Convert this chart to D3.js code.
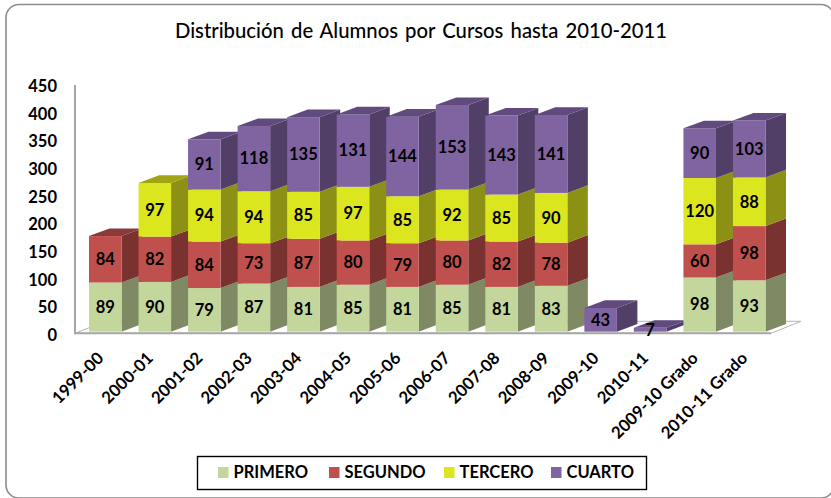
<!DOCTYPE html>
<html>
<head>
<meta charset="utf-8">
<script src="https://cdnjs.cloudflare.com/ajax/libs/d3/7.8.5/d3.min.js"></script>
<style>
    html, body { margin: 0; padding: 0; background: #fff; }
    svg { display: block; }
    text { font-family: Lato, "Open Sans", sans-serif; fill: #000; }
</style>
</head>
<body>
<div id="chart"></div>
<script>
var cursos = ["1999-00", "2000-01", "2001-02", "2002-03", "2003-04", "2004-05", "2005-06", "2006-07", "2007-08", "2008-09", "2009-10", "2010-11", "2009-10 Grado", "2010-11 Grado"];
var series = ["PRIMERO", "SEGUNDO", "TERCERO", "CUARTO"];
var primero = [89, 90, 79, 87, 81, 85, 81, 85, 81, 83, 0, 0, 98, 93];
var segundo = [84, 82, 84, 73, 87, 80, 79, 80, 82, 78, 0, 0, 60, 98];
var tercero = [0, 97, 94, 94, 85, 97, 85, 92, 85, 90, 0, 0, 120, 88];
var cuarto = [0, 0, 91, 118, 135, 131, 144, 153, 143, 141, 43, 7, 90, 103];
var yTicks = [0, 50, 100, 150, 200, 250, 300, 350, 400, 450];

var frontColors = ["#c3d69b", "#c0504d", "#dce61e", "#8064a2"];
var sideColors = ["#7f8a65", "#7a3230", "#8c9115", "#523f68"];
var topColors = ["#8f9c72", "#8a3a38", "#a0a513", "#614b7e"];

var width = 831, height = 498;
var depthX = 20.5, depthY = 7.6;

var rows = cursos.map(function (c, i) {
    return { curso: c, PRIMERO: primero[i], SEGUNDO: segundo[i], TERCERO: tercero[i], CUARTO: cuarto[i] };
});
var stacked = d3.stack().keys(series)(rows);

var x = d3.scaleBand().domain(cursos).range([89, 765.5]).paddingInner(0.343).paddingOuter(0);
var y = d3.scaleLinear().domain([0, 450]).range([331.7, 82.9]);

var svg = d3.select("#chart").append("svg").attr("width", width).attr("height", height);

// outer frame, the right and bottom edges run off the picture
svg.append("rect")
    .attr("x", 6).attr("y", 4.5).attr("width", 828).attr("height", 493.5)
    .attr("rx", 13)
    .attr("fill", "#fff").attr("stroke", "#8c8c8c").attr("stroke-width", 1.6);

svg.append("text")
    .attr("x", 421).attr("y", 38)
    .attr("text-anchor", "middle")
    .style("font-size", "20.3px").style("font-weight", 500).style("word-spacing", "2px")
    .text("Distribución de Alumnos por Cursos hasta 2010-2011");

// floor and wall
var floorY = y(0) + 1.6;
svg.append("path")
    .attr("d", "M75," + floorY + "L105," + (floorY - 12) + "L801," + (floorY - 12) + "L771," + floorY + "Z")
    .attr("fill", "#fff").attr("stroke", "#b4b4b4").attr("stroke-width", 1);
svg.append("line")
    .attr("x1", 75).attr("x2", 771).attr("y1", floorY).attr("y2", floorY)
    .attr("stroke", "#a6a6a6").attr("stroke-width", 2);
svg.append("line")
    .attr("x1", 75).attr("x2", 75).attr("y1", 85).attr("y2", floorY + 1)
    .attr("stroke", "#a6a6a6").attr("stroke-width", 2);

// bars, left to right so each one covers the side of the previous one
var bars = svg.append("g");
cursos.forEach(function (c, i) {
    var g = bars.append("g");
    var x0 = x(c), x1 = x(c) + x.bandwidth();
    var topS = -1;
    stacked.forEach(function (layer, s) {
        var y0 = y(layer[i][0]), y1 = y(layer[i][1]);
        if (layer[i][1] === layer[i][0]) return;
        topS = s;
        g.append("path")
            .attr("d", "M" + x1 + "," + y1 + "L" + (x1 + depthX) + "," + (y1 - depthY) + "L" + (x1 + depthX) + "," + (y0 - depthY) + "L" + x1 + "," + y0 + "Z")
            .attr("fill", sideColors[s]);
        g.append("rect")
            .attr("x", x0).attr("y", y1).attr("width", x.bandwidth()).attr("height", y0 - y1)
            .attr("fill", frontColors[s]);
    });
    var yt = y(stacked[topS][i][1]);
    g.append("path")
        .attr("d", "M" + x0 + "," + yt + "L" + (x0 + depthX) + "," + (yt - depthY) + "L" + (x1 + depthX) + "," + (yt - depthY) + "L" + x1 + "," + yt + "Z")
        .attr("fill", topColors[topS]);
});

// data labels go on top of everything
stacked.forEach(function (layer) {
    svg.append("g").selectAll("text")
        .data(layer.filter(function (d) { return d[1] > d[0]; }))
        .enter().append("text")
        .attr("x", function (d) { return x(d.data.curso) + x.bandwidth() / 2; })
        .attr("y", function (d) { return (y(d[0]) + y(d[1])) / 2 + 5.8; })
        .attr("text-anchor", "middle")
        .style("font-size", "16.5px").style("font-weight", 700)
        .text(function (d) { return d[1] - d[0]; });
});

// axes
var yAxis = svg.append("g")
    .attr("transform", "translate(57,3.4)")
    .call(d3.axisLeft(y).tickValues(yTicks).tickSize(0).tickPadding(0));
yAxis.select(".domain").remove();
yAxis.selectAll("text").style("font-size", "16.5px").style("font-weight", 700);

var xAxis = svg.append("g")
    .attr("transform", "translate(-9,351)")
    .call(d3.axisBottom(x).tickSize(0).tickPadding(0));
xAxis.select(".domain").remove();
xAxis.selectAll("text")
    .attr("text-anchor", "end")
    .attr("dy", "0.7em")
    .attr("transform", "rotate(-45)")
    .style("font-size", "16.7px").style("font-weight", 700);

// legend
var legendX = [218, 329, 444, 551];
var legend = svg.append("g");
legend.append("rect")
    .attr("x", 197.5).attr("y", 456.5).attr("width", 449).attr("height", 33)
    .attr("fill", "#fff").attr("stroke", "#000").attr("stroke-width", 1.4);
series.forEach(function (name, s) {
    legend.append("rect")
        .attr("x", legendX[s]).attr("y", 467).attr("width", 10.5).attr("height", 11)
        .attr("fill", frontColors[s]);
    legend.append("text")
        .attr("x", legendX[s] + 15.5).attr("y", 478)
        .style("font-size", "16.5px").style("font-weight", 700)
        .text(name);
});
</script>
</body>
</html>
